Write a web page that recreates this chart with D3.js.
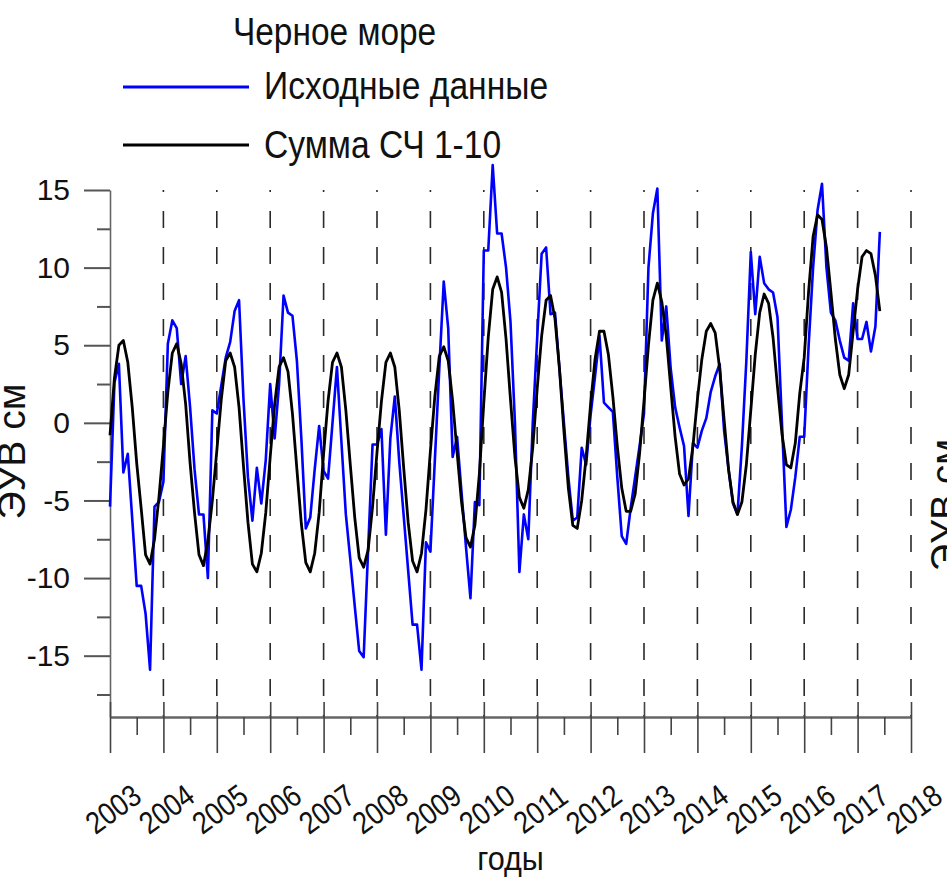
<!DOCTYPE html>
<html>
<head>
<meta charset="utf-8">
<script src="https://cdn.jsdelivr.net/npm/d3@7"></script>
<style>
  html, body { margin: 0; padding: 0; background: #fff; overflow: hidden; }
  svg { display: block; }
</style>
</head>
<body>
<svg id="chart" width="947" height="888"></svg>
<script>
// Monthly sea level anomalies (cm), Black Sea, starting January 2003
const startYear = 2003;
const yearTicks = [2003, 2004, 2005, 2006, 2007, 2008, 2009, 2010, 2011, 2012, 2013, 2014, 2015, 2016, 2017, 2018];
const halfYearTicks = [2003.5, 2004.5, 2005.5, 2006.5, 2007.5, 2008.5, 2009.5, 2010.5, 2011.5, 2012.5, 2013.5, 2014.5, 2015.5, 2016.5, 2017.5];
const valueTicks = [-15, -10, -5, 0, 5, 10, 15];
const minorValueTicks = [-17.5, -12.5, -7.5, -2.5, 2.5, 7.5, 12.5];

// Original monthly series
const observed = [
  -5.4, 2.6, 3.8, -3.2, -2.0, -6.2, -10.5, -10.5, -12.3, -15.9, -5.4, -5.1,
  -3.8, 5.1, 6.6, 6.1, 2.5, 4.3, 1.0, -3.0, -5.9, -5.9, -10.0, 0.8,
  0.6, 2.4, 4.2, 5.2, 7.2, 7.9, 1.5, -3.5, -6.3, -2.9, -5.2, -2.4,
  2.5, -1.0, 2.5, 8.2, 7.1, 6.9, 4.0, -1.0, -6.8, -6.1, -3.0, -0.2,
  -3.1, -3.6, 0.0, 3.6, -1.2, -5.9, -8.8, -11.8, -14.7, -15.1, -8.2, -1.4,
  -1.4, -0.4, -7.2, -1.0, 1.7, -2.5, -6.0, -9.5, -13.0, -13.0, -15.9, -7.7,
  -8.3, -2.4, 3.5, 9.1, 6.1, -2.2, -0.9, -4.5, -8.0, -11.3, -5.1, -5.3,
  11.1, 11.1, 16.6, 12.2, 12.2, 10.0, 6.5, 0.0, -9.6, -5.9, -7.5, 0.0,
  5.5, 10.9, 11.3, 7.0, 7.1, 3.5, 0.0, -3.5, -6.3, -6.1, -1.6, -2.7,
  0.5, 3.0, 5.6, 1.3, 1.0, 0.7, -3.5, -7.3, -7.8, -5.5, -3.5, -1.5,
  0.6, 10.0, 13.5, 15.1, 5.3, 7.5, 3.5, 1.0, -0.3, -1.5, -6.0, -1.3,
  -1.6, -0.5, 0.3, 2.0, 3.0, 3.8, -0.5, -3.0, -5.2, -5.9, -1.5, 4.0,
  11.0, 7.0, 10.7, 9.0, 8.6, 8.4, 6.8, 0.0, -6.7, -5.6, -3.5, -0.9,
  -0.9, 5.0, 10.0, 13.7, 15.4, 10.0, 7.1, 6.6, 5.3, 4.2, 4.0, 7.7,
  5.4, 5.4, 6.5, 4.6, 6.2, 12.3
];

// Sum of singular components 1-10
const reconstructed = [
  -0.8, 2.9, 5.0, 5.3, 3.9, 1.0, -2.6, -5.5, -8.5, -9.1, -7.5, -4.8,
  -1.5, 2.0, 4.5, 5.1, 3.8, 1.2, -2.6, -5.8, -8.5, -9.2, -7.6, -5.0,
  -1.8, 1.5, 4.0, 4.5, 3.6, 1.0, -2.8, -6.4, -9.1, -9.6, -8.4, -5.8,
  -2.2, 1.2, 3.6, 4.2, 3.3, 0.6, -3.0, -6.5, -9.0, -9.6, -8.4, -5.8,
  -2.0, 1.4, 3.9, 4.5, 3.6, 0.8, -2.7, -6.1, -8.7, -9.3, -8.2, -5.4,
  -1.9, 1.4, 3.9, 4.5, 3.6, 0.8, -2.9, -6.4, -8.9, -9.6, -8.4, -5.6,
  -1.8, 1.7, 4.3, 4.9, 4.0, 1.4, -1.9, -5.1, -7.4, -8.0, -6.6, -3.3,
  1.3, 5.5, 8.6, 9.4, 8.4, 5.4, 1.5, -2.2, -4.8, -5.5, -4.3, -1.6,
  2.2, 5.6, 7.9, 8.2, 6.7, 3.5, -0.5, -4.2, -6.6, -6.8, -5.0, -2.2,
  1.2, 4.1, 5.9, 5.9, 4.4, 1.7, -1.5, -4.2, -5.7, -5.7, -4.6, -2.0,
  1.4, 5.0, 7.9, 9.0, 7.8, 5.6, 2.3, -0.9, -3.3, -4.0, -3.6, -1.5,
  1.5, 4.1, 5.9, 6.4, 5.8, 3.5, 0.2, -3.0, -5.1, -5.9, -5.1, -2.7,
  0.8, 4.4, 7.1, 8.3, 7.7, 5.5, 2.3, -0.7, -2.7, -2.9, -1.3, 1.9,
  4.2, 8.5, 12.0, 13.4, 13.1, 11.3, 8.4, 5.4, 3.1, 2.2, 3.1, 5.9,
  8.6, 10.7, 11.1, 10.9, 9.5, 7.2
];

const titleText = "Черное море";
const seriesNames = ["Исходные данные", "Сумма СЧ 1-10"];
const seriesColors = ["#0000ff", "#000000"];
const yLabel = "ЭУВ см";
const xLabel = "годы";

const FONT = "'Liberation Sans', Arial, Helvetica, sans-serif";
const svg = d3.select("#chart").attr("font-family", FONT);

const yMin = -18.95, yMax = 15;
const x = d3.scaleLinear().domain([yearTicks[0], yearTicks[yearTicks.length - 1]]).range([110, 911]);
const y = d3.scaleLinear().domain([yMin, yMax]).range([717, 190]);
const monthTime = i => startYear + i / 12;

// Left value axis
const gy = svg.append("g")
  .attr("transform", `translate(${x.range()[0]},0)`)
  .call(d3.axisLeft(y).tickValues(valueTicks).tickSize(26).tickSizeOuter(0)
    .tickPadding(14).tickFormat(d => String(d)))
  .attr("font-family", FONT).attr("font-size", 30);
gy.select(".domain").attr("stroke", "#666").attr("stroke-width", 1.6);
gy.selectAll(".tick line").attr("stroke", "#555").attr("stroke-width", 2);
gy.selectAll(".tick text").attr("fill", "#111");

const gyMinor = svg.append("g")
  .attr("transform", `translate(${x.range()[0]},0)`)
  .call(d3.axisLeft(y).tickValues(minorValueTicks).tickSize(13).tickFormat(""));
gyMinor.select(".domain").remove();
gyMinor.selectAll(".tick line").attr("stroke", "#555").attr("stroke-width", 2);

// Year gridlines
svg.append("g").selectAll("line")
  .data(yearTicks.slice(1))
  .join("line")
  .attr("x1", d => x(d)).attr("x2", d => x(d))
  .attr("y1", y(yMax)).attr("y2", y(yMin))
  .attr("stroke", "#2a2a2a").attr("stroke-width", 1.6)
  .attr("stroke-dasharray", "17,19").attr("stroke-dashoffset", 15);

// Bottom time axis
const gx = svg.append("g")
  .attr("transform", `translate(0,${y(yMin)})`)
  .call(d3.axisBottom(x).tickValues(yearTicks).tickSize(36).tickSizeOuter(0).tickFormat(""));
gx.select(".domain").attr("stroke", "#666").attr("stroke-width", 2.6);
gx.selectAll(".tick line").attr("y1", -15).attr("stroke", "#444").attr("stroke-width", 1.6);
gx.selectAll(".tick text").remove();
gx.selectAll(".tick").append("text")
  .text(d => d)
  .attr("transform", "translate(2.6,92) rotate(-36) scale(0.86,1)")
  .attr("text-anchor", "middle")
  .attr("dy", "0.35em")
  .attr("font-family", FONT)
  .attr("font-size", 31)
  .attr("fill", "#111");

const gxMinor = svg.append("g")
  .attr("transform", `translate(0,${y(yMin)})`)
  .call(d3.axisBottom(x).tickValues(halfYearTicks).tickSize(18).tickFormat(""));
gxMinor.select(".domain").remove();
gxMinor.selectAll(".tick line").attr("stroke", "#444").attr("stroke-width", 1.6);

// Axis titles
svg.append("text")
  .attr("transform", `translate(25,${(y(yMin) + y(yMax)) / 2 - 2}) rotate(-90)`)
  .attr("text-anchor", "middle")
  .attr("font-size", 39)
  .attr("fill", "#111")
  .text(yLabel);

svg.append("text")
  .attr("transform", `translate(958,505) rotate(-90)`)
  .attr("text-anchor", "middle")
  .attr("font-size", 38)
  .attr("fill", "#111")
  .text(yLabel);

svg.append("text")
  .attr("transform", `translate(${(x.range()[0] + x.range()[1]) / 2},870) scale(0.9,1)`)
  .attr("text-anchor", "middle")
  .attr("font-size", 34)
  .attr("fill", "#111")
  .text(xLabel);

// Series lines
const line = d3.line()
  .x((d, i) => x(monthTime(i)))
  .y(d => y(d));

svg.append("path")
  .datum(observed)
  .attr("fill", "none")
  .attr("stroke", seriesColors[0])
  .attr("stroke-width", 2.6)
  .attr("stroke-linejoin", "round")
  .attr("d", line);

svg.append("path")
  .datum(reconstructed)
  .attr("fill", "none")
  .attr("stroke", seriesColors[1])
  .attr("stroke-width", 2.8)
  .attr("stroke-linejoin", "round")
  .attr("d", line);

// Title and legend
svg.append("text")
  .attr("transform", "translate(233,45) scale(0.88,1)")
  .attr("font-size", 38)
  .attr("fill", "#111")
  .text(titleText);

const legend = svg.append("g");
const legendRows = [87, 145];
const legendBaselines = [99, 158];
seriesNames.forEach((name, k) => {
  legend.append("line")
    .attr("x1", 123).attr("x2", 249)
    .attr("y1", legendRows[k]).attr("y2", legendRows[k])
    .attr("stroke", seriesColors[k]).attr("stroke-width", 3);
  legend.append("text")
    .attr("transform", `translate(264,${legendBaselines[k]}) scale(0.885,1)`)
    .attr("font-size", 38)
    .attr("fill", "#111")
    .text(name);
});
</script>
</body>
</html>
